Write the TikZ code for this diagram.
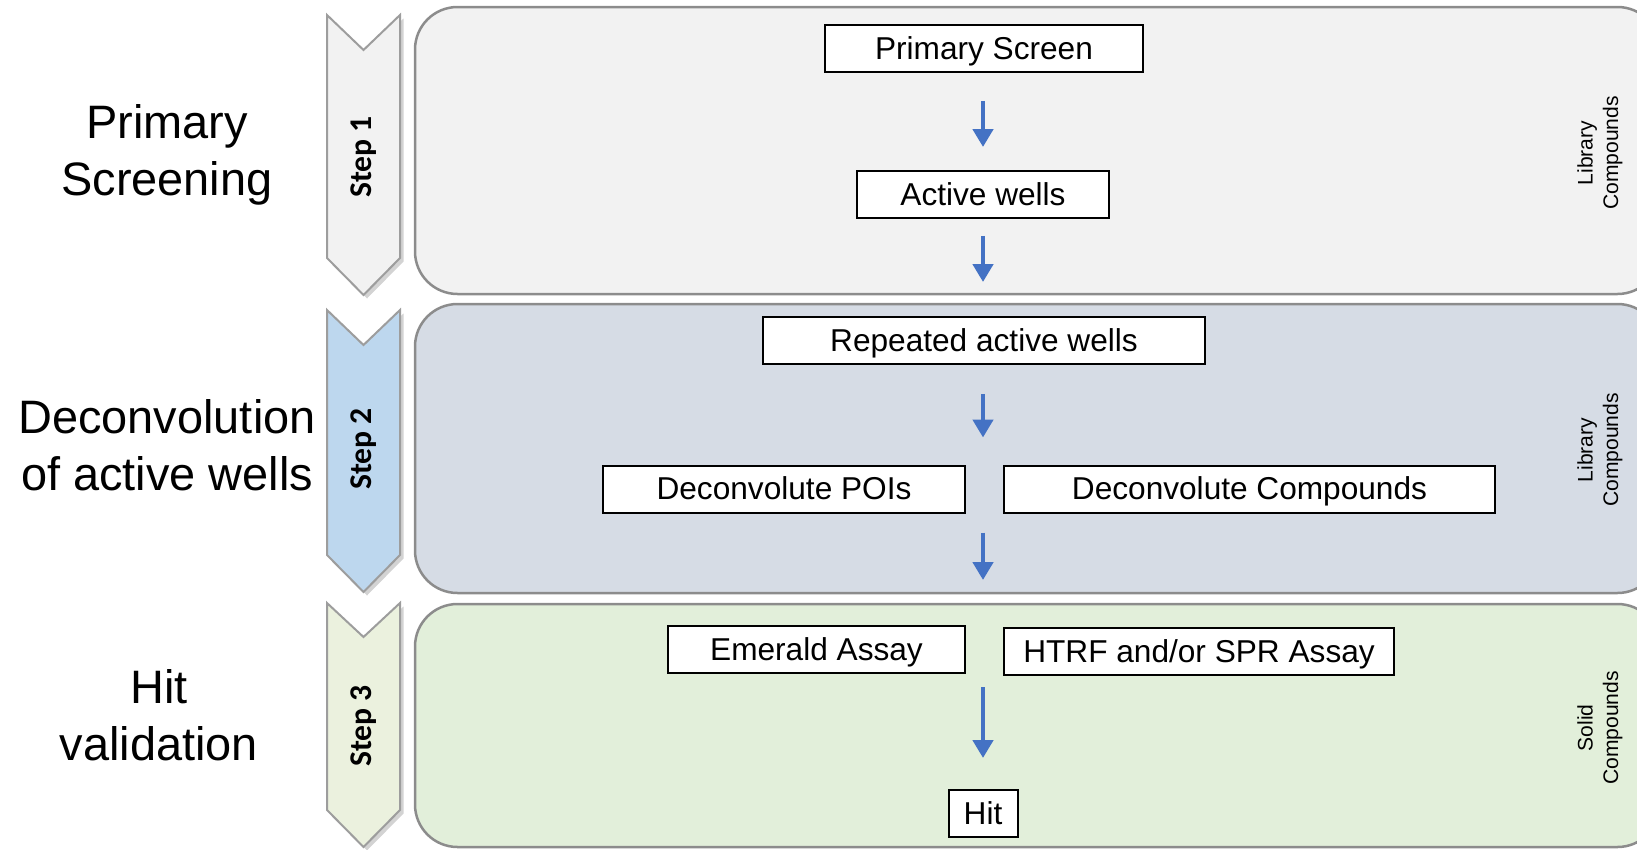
\documentclass[tikz,border=0pt]{standalone}
\usepackage{fontspec}
\setmainfont{Liberation Sans}
\newfontfamily\stepfont{Carlito}
\usetikzlibrary{arrows.meta,shadows}

\definecolor{panelgray}{HTML}{F2F2F2}
\definecolor{panelblue}{HTML}{D6DCE5}
\definecolor{panelgreen}{HTML}{E2EFDA}
\definecolor{chevblue}{HTML}{BDD7EE}
\definecolor{chevgreen}{HTML}{EBF1DE}
\definecolor{flowblue}{HTML}{4472C4}
\definecolor{edgegray}{HTML}{8C8C8C}

\tikzset{
  panel/.style={draw=edgegray, line width=0.05cm, rounded corners=0.85cm},
  chevron/.style={draw=edgegray!85, line width=0.04cm,
    drop shadow={opacity=0.35, shadow xshift=0.07cm, shadow yshift=-0.07cm}},
  box/.style={draw=black, fill=white, line width=0.04cm, inner sep=0pt,
    minimum height=0.94cm, text height=13pt, text depth=1pt,
    font=\fontsize{18}{21}\selectfont},
  flow/.style={draw=flowblue, line width=0.09cm, -{Triangle[width=0.4cm,length=0.36cm]}},
  phase/.style={align=center, font=\fontsize{26.7}{32.3}\selectfont},
  steplabel/.style={rotate=90, font=\stepfont\bfseries\fontsize{18}{21}\selectfont},
  stock/.style={rotate=90, align=center, font=\fontsize{12}{14.5}\selectfont}
}

\begin{document}
\begin{tikzpicture}[x=0.02cm, y=-0.02cm]
  \clip (0,0) rectangle (1637,849);

  % Panels
  \draw[panel, fill=panelgray] (415,7) rectangle (1660,294);
  \draw[panel, fill=panelblue] (415,304) rectangle (1660,593);
  \draw[panel, fill=panelgreen] (415,604) rectangle (1660,847);

  % Step chevrons
  \draw[chevron, fill=panelgray] (327,15) -- (363.5,50) -- (400,15) -- (400,258)
    -- (363.5,295) -- (327,258) -- cycle;
  \draw[chevron, fill=chevblue] (327,310) -- (363.5,345) -- (400,310) -- (400,555)
    -- (363.5,592) -- (327,555) -- cycle;
  \draw[chevron, fill=chevgreen] (327,603) -- (363.5,637) -- (400,603) -- (400,810)
    -- (363.5,847) -- (327,810) -- cycle;
  \node[steplabel] (step1) at (364,157) {Step 1};
  \node[steplabel] (step2) at (364,449) {Step 2};
  \node[steplabel] (step3) at (364,726) {Step 3};

  % Phase names
  \node[phase] (phase1) at (167,155) {Primary\\Screening};
  \node[phase] (phase2) at (167,445) {Deconvolution\\of active wells};
  \node[phase] (phase3) at (159,715) {Hit\\validation};

  % Compound source
  \node[stock] (src1) at (1600,153) {Library\\Compounds};
  \node[stock] (src2) at (1600,450) {Library\\Compounds};
  \node[stock] (src3) at (1600,728) {Solid\\Compounds};

  % Step 1 boxes
  \node[box, minimum width=6.36cm] (prim) at (984,48.5) {Primary Screen};
  \node[box, minimum width=5.04cm] (act) at (983,194.5) {Active wells};

  % Step 2 boxes
  \node[box, minimum width=8.84cm] (rep) at (984,340.5) {Repeated active wells};
  \node[box, minimum width=7.24cm] (dpoi) at (784,489) {Deconvolute POIs};
  \node[box, minimum width=9.82cm] (dcmp) at (1249.5,489) {Deconvolute Compounds};

  % Step 3 boxes
  \node[box, minimum width=5.94cm] (emer) at (816.5,649.5) {Emerald Assay};
  \node[box, minimum width=7.8cm] (htrf) at (1199,651.5) {HTRF and/or SPR Assay};
  \node[box, minimum width=1.38cm] (hit) at (983,813.5) {Hit};

  % Flow arrows
  \draw[flow] ([yshift=-0.56cm]act.north |- prim.south) -- ([yshift=0.46cm]act.north);
  \draw[flow] ([yshift=-0.34cm]act.south) -- ([yshift=0.68cm]act.south |- rep.north);
  \draw[flow] ([yshift=-0.58cm]act.south |- rep.south) -- ([yshift=0.54cm]act.south |- dpoi.north);
  \draw[flow] ([yshift=-0.38cm]act.south |- dpoi.south) -- ([yshift=0.9cm]act.south |- emer.north);
  \draw[flow] ([yshift=-0.26cm]hit.north |- emer.south) -- ([yshift=0.62cm]hit.north);
\end{tikzpicture}
\end{document}
